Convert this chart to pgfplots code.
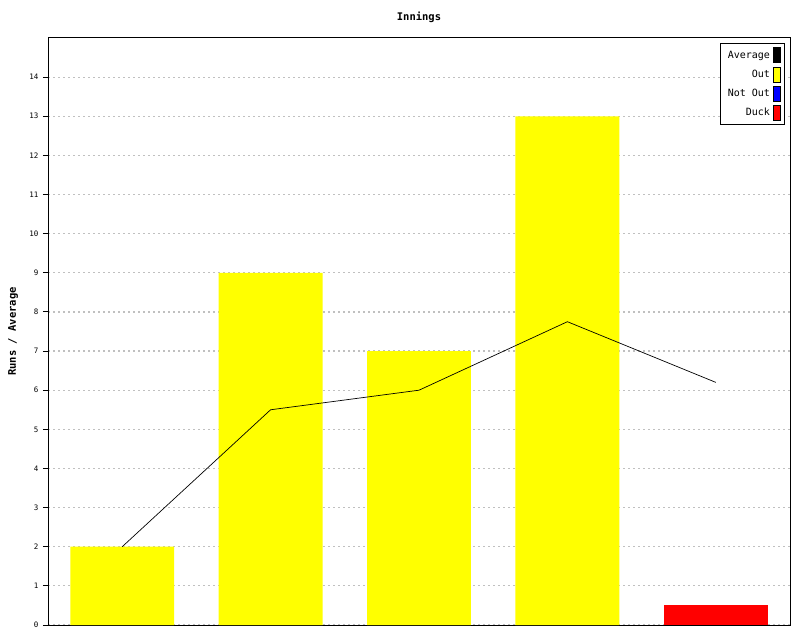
\documentclass[border=0pt]{standalone}
\usepackage{pgfplots}
\pgfplotsset{compat=1.18}
\usepackage{fontspec}
\setmainfont{DejaVu Sans Mono}
\definecolor{ylw}{RGB}{255,255,0}
\definecolor{rd}{RGB}{255,0,0}
\definecolor{bl}{RGB}{0,0,255}
\definecolor{gridgray}{RGB}{192,192,192}
\begin{document}
\begin{tikzpicture}
\path[use as bounding box] (0pt,0pt) rectangle (800pt,640pt);
\begin{axis}[
  at={(48pt,15pt)}, anchor=south west,
  scale only axis, width=742pt, height=587pt,
  xmin=-0.5, xmax=4.5, ymin=0, ymax=15,
  xtick=\empty,
  ytick={0,...,14},
  ytick pos=left, tick align=outside,
  major tick length=5pt,
  /pgf/number format/assume math mode=true,
  yticklabel style={font=\fontsize{7.5}{8}\selectfont, xshift=-1pt},
  axis line style={line width=1pt},
  every tick/.style={black, line width=1pt},
  ymajorgrids,
  grid style={gridgray, line width=1.2pt, dash pattern=on 2pt off 3pt},
  title={\bfseries Innings},
  every axis title/.style={at={(axis description cs:0.5,1)}, anchor=center, yshift=21pt, font=\fontsize{10.5}{12}\selectfont},
  ylabel={\bfseries Runs / Average},
  every axis y label/.style={at={(axis description cs:-0.047,0.5)}, rotate=90, anchor=center, font=\fontsize{10.5}{12}\selectfont},
  legend style={at={(1,1)}, anchor=north east, xshift=-5pt, yshift=-5pt,
    draw=black, line width=0.8pt, font=\fontsize{10}{12}\selectfont,
    row sep=3.5pt, inner xsep=4pt, inner ysep=4pt,
    nodes={inner xsep=3pt}},
  legend cell align=right,
  legend plot pos=right,
  bar width=0.7,
]
\addplot[ybar, bar shift=0pt, fill=ylw, draw=none, forget plot] coordinates {(0,2) (1,9) (2,7) (3,13)};
\addplot[ybar, bar shift=0pt, fill=rd, draw=none, forget plot] coordinates {(4,0.5)};
\addplot[black, line width=0.7pt, mark=none, forget plot] coordinates {(0,2) (1,5.5) (2,6) (3,7.75) (4,6.2)};
\addlegendimage{legend image code/.code={\draw[black, fill=black, line width=0.7pt] (0pt,-7.5pt) rectangle (7pt,7.5pt);}}
\addlegendentry{Average}
\addlegendimage{legend image code/.code={\draw[black, fill=ylw, line width=0.7pt] (0pt,-7.5pt) rectangle (7pt,7.5pt);}}
\addlegendentry{Out}
\addlegendimage{legend image code/.code={\draw[black, fill=bl, line width=0.7pt] (0pt,-7.5pt) rectangle (7pt,7.5pt);}}
\addlegendentry{Not Out}
\addlegendimage{legend image code/.code={\draw[black, fill=rd, line width=0.7pt] (0pt,-7.5pt) rectangle (7pt,7.5pt);}}
\addlegendentry{Duck}
\end{axis}
\end{tikzpicture}
\end{document}
